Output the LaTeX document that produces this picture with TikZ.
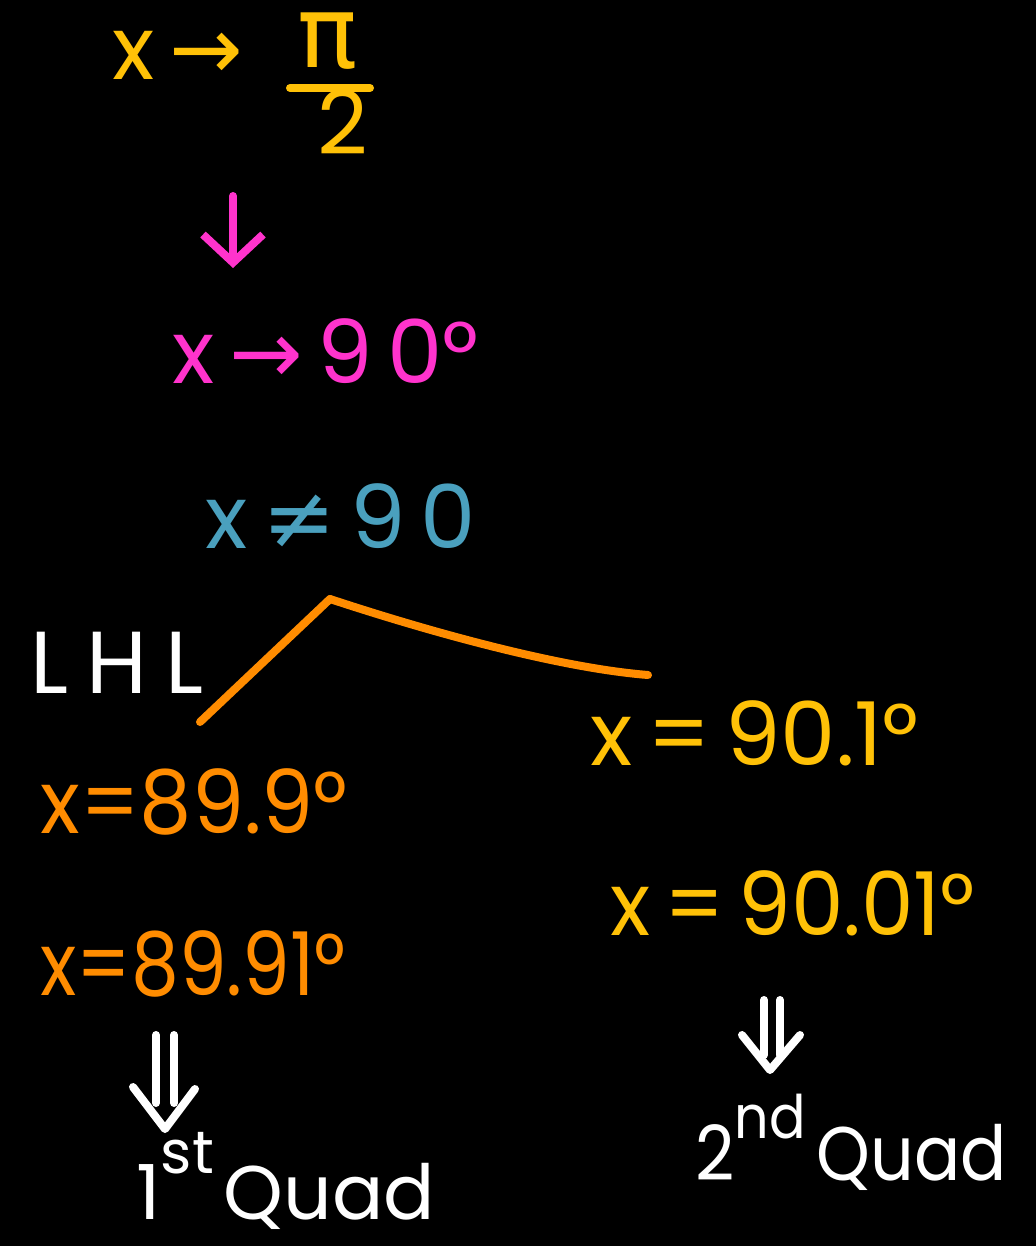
\documentclass[tikz,border=0pt]{standalone}
\usepackage{fontspec}
\usepackage{graphicx}
\setmainfont{Poppins}
\newfontfamily\sym{DejaVu Sans}
\usetikzlibrary{arrows.meta}
\definecolor{hyel}{RGB}{255,193,7}
\definecolor{hpink}{RGB}{255,51,204}
\definecolor{hteal}{RGB}{74,160,190}
\definecolor{horange}{RGB}{255,140,0}
\newcommand{\narrow}[2][0.86]{\scalebox{#1}[1]{#2}}
\begin{document}
\begin{tikzpicture}[x=0.5pt,y=-0.5pt,
  txt/.style={inner sep=0pt, anchor=base west, font=\fontsize{44}{50}\selectfont},
  quad/.style={inner sep=0pt, anchor=base west, font=\fontsize{38}{42}\selectfont},
  hand/.style={line width=4pt, line cap=round, line join=round}]
\useasboundingbox (0,0) rectangle (1036,1246);
\fill[black] (0,0) rectangle (1036,1246);
% top: x -> pi/2
\node[txt, text=hyel] (n1) at (112,80) {x\,{\sym→}};
\node[txt, text=hyel, anchor=base, font=\fontsize{50}{52}\selectfont] (n1pi) at (328,68) {{\sym π}};
\node[txt, text=hyel, anchor=base] (n1two) at (343,155) {2};
\draw[hand, hyel] (290,88) -- (370,88);
% pink arrow
\coordinate (pa) at (233,196);
\coordinate (pb) at (233,268);
\draw[hand, hpink, -{Straight Barb[length=14pt, width=30pt, line width=4pt]}] (pa) -- (pb);
% x -> 90
\node[txt, text=hpink] (n2) at (172,383) {x\,{\sym→}\,9\,0°};
% x != 90
\node[txt, text=hteal] (n3) at (205,548) {x\,{\sym≠}\,9\,0};
% branches
\coordinate (apex) at (330,599);
\coordinate (lend) at (200,722);
\coordinate (rend) at (648,675);
\draw[hand, horange] (apex) -- (lend);
\draw[hand, horange] (apex) .. controls (430,632) and (560,668) .. (rend);
% LHL
\node[txt, text=white] (lhl) at (30,693) {L\hspace{9pt}H\hspace{9pt}L};
% left values
\node[txt, text=horange] (n4) at (40,833) {\narrow[0.94]{x=89.9°}};
\node[txt, text=horange] (n5) at (40,995) {\narrow{x=89.91°}};
% right values
\node[txt, text=hyel] (n6) at (590,765) {x\,=\,90.1°};
\node[txt, text=hyel] (n7) at (610,935) {\narrow[0.95]{x\,=\,90.01°}};
% implies arrows
\coordinate (d1) at (165,1035);
\draw[hand, white] (d1) ++(-9,0) -- ++(0,68);
\draw[hand, white] (d1) ++(9,0) -- ++(0,68);
\draw[hand, white] (d1) ++(-32,52) -- ++(32,42) -- ++(30,-40);
\coordinate (d2) at (772,1000);
\draw[hand, white] (d2) ++(-8,0) -- ++(0,55);
\draw[hand, white] (d2) ++(8,0) -- ++(0,55);
\draw[hand, white] (d2) ++(-30,35) -- ++(28,35) -- ++(30,-35);
% quadrants
\node[quad, text=white] (q1) at (136,1219) {1\raisebox{0.6em}{\fontsize{30}{30}\selectfont st}\hspace{5pt}Quad};
\node[quad, text=white] (q2) at (695,1180) {\narrow[0.9]{2\raisebox{0.55em}{\fontsize{30}{30}\selectfont nd}\hspace{6pt}Quad}};
\end{tikzpicture}
\end{document}
